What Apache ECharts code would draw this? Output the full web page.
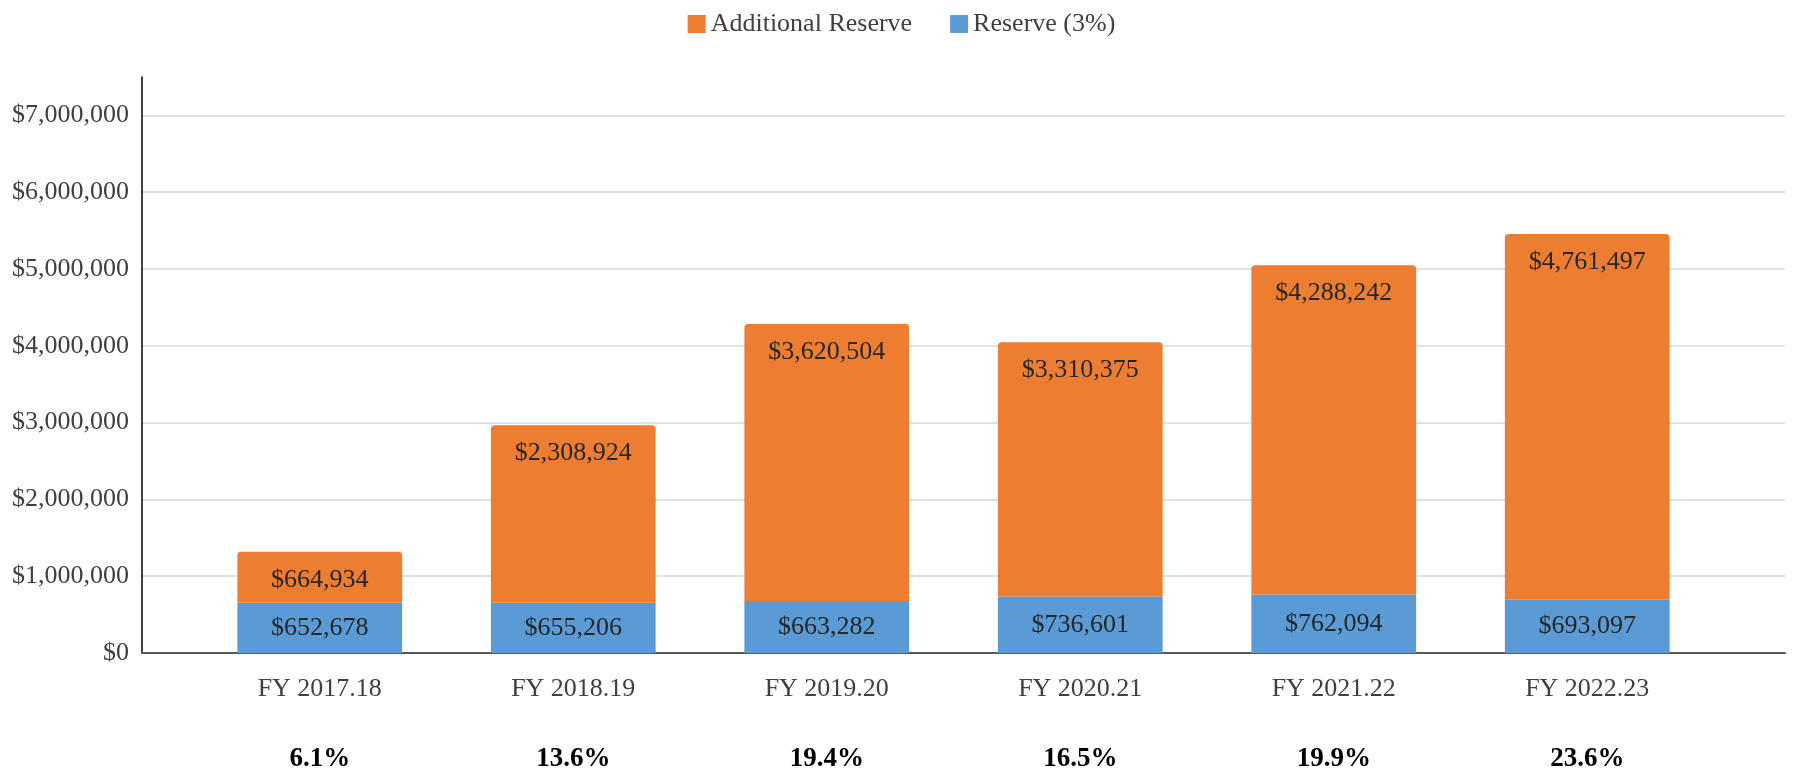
<!DOCTYPE html>
<html>
<head>
<meta charset="utf-8">
<script src="https://cdn.jsdelivr.net/npm/echarts@6/dist/echarts.min.js"></script>
<style>html,body{margin:0;padding:0;background:#fff;}#c{width:1803px;height:768px;}</style>
</head>
<body>
<div id="c"></div>
<script>
const categories = ['FY 2017.18', 'FY 2018.19', 'FY 2019.20', 'FY 2020.21', 'FY 2021.22', 'FY 2022.23'];
const reserve = [652678, 655206, 663282, 736601, 762094, 693097];
const additionalReserve = [664934, 2308924, 3620504, 3310375, 4288242, 4761497];
const percentLabels = ['6.1%', '13.6%', '19.4%', '16.5%', '19.9%', '23.6%'];
const yMin = 0, yMax = 7500000, yInterval = 1000000;

const FONT = '"Liberation Serif", "DejaVu Serif", serif';
const money = v => '$' + Math.round(v).toLocaleString('en-US');

const chart = echarts.init(document.getElementById('c'), null, {renderer: 'canvas'});
chart.setOption({
  animation: false,
  backgroundColor: '#ffffff',
  textStyle: {fontFamily: FONT},
  legend: {
    top: 6, left: 'center',
    itemWidth: 18, itemHeight: 18, itemGap: 38,
    icon: 'rect',
    data: ['Additional Reserve', 'Reserve (3%)'],
    textStyle: {fontFamily: FONT, fontSize: 26, color: '#404040'}
  },
  grid: [
    {left: 142, right: 18, top: 77, bottom: 115, containLabel: false, outerBoundsMode: 'none'},
    {left: 193, right: 89, top: 77, bottom: 115, containLabel: false, outerBoundsMode: 'none'}
  ],
  xAxis: [
    {gridIndex: 0, type: 'value', min: 0, max: 1, axisLine: {show: true, onZero: false, lineStyle: {color: '#595959', width: 2}},
     axisTick: {show: false}, axisLabel: {show: false}, splitLine: {show: false}},
    {gridIndex: 1, type: 'category', data: categories, axisLine: {show: false}, axisTick: {show: false},
     axisLabel: {fontFamily: FONT, fontSize: 26, color: '#404040', margin: 23}},
    {gridIndex: 1, type: 'category', position: 'bottom', data: percentLabels, axisLine: {show: false}, axisTick: {show: false},
     axisLabel: {fontFamily: FONT, fontSize: 27, fontWeight: 'bold', color: '#000000', margin: 93}}
  ],
  yAxis: [
    {gridIndex: 0, type: 'value', min: yMin, max: yMax, interval: yInterval,
     axisLine: {show: true, lineStyle: {color: '#000000', width: 1.5}}, axisTick: {show: false},
     axisLabel: {fontFamily: FONT, fontSize: 26, color: '#404040', margin: 13, showMaxLabel: false, formatter: money},
     splitLine: {show: true, showMaxLine: false, lineStyle: {color: '#d9d9d9', width: 1.5}}},
    {gridIndex: 1, type: 'value', min: yMin, max: yMax, interval: yInterval, show: false, splitLine: {show: false}}
  ],
  series: [
    {name: 'Reserve (3%)', type: 'bar', stack: 'total', xAxisIndex: 1, yAxisIndex: 1, data: reserve,
     barWidth: '65%', itemStyle: {color: '#5B9BD5'},
     label: {show: true, position: 'inside', fontFamily: FONT, fontSize: 26, color: '#262626', formatter: p => money(p.value)}},
    {name: 'Additional Reserve', type: 'bar', stack: 'total', xAxisIndex: 1, yAxisIndex: 1, data: additionalReserve,
     barWidth: '65%', itemStyle: {color: '#ED7D31', borderRadius: [4, 4, 0, 0]},
     label: {show: true, position: 'insideTop', distance: 15, fontFamily: FONT, fontSize: 26, color: '#262626', formatter: p => money(p.value)}}
  ]
});
</script>
</body>
</html>
